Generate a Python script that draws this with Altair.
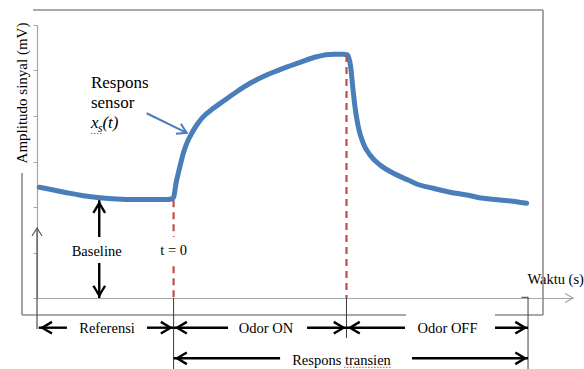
import altair as alt
import pandas as pd

# Sensor trace: time relative to odor onset (s) and output amplitude (mV)
time_s = [-77.7, -71.5, -61.8, -52.2, -42.6, -32.9, -23.3, -13.6, -4.0, -1.1,
          0.0, 1.4, 2.7, 4.1, 5.6, 7.6, 10.5, 13.4, 17.2, 23.0, 29.7, 36.5,
          44.2, 53.8, 63.4, 73.1, 82.8, 92.4, 98.1, 100.6,
          102.4, 103.6, 104.9, 106.8, 109.7, 113.6, 119.4, 127.1, 135.7,
          140.6, 150.2, 159.9, 169.5, 179.1, 188.8, 198.4, 204.2]
amplitude_mv = [24.33, 23.89, 23.14, 22.48, 22.04, 21.76, 21.65, 21.65, 21.65, 21.76,
                22.13, 25.21, 27.41, 29.60, 31.80, 34.00, 36.20, 38.02, 39.85, 41.69, 43.52, 45.34,
                47.19, 49.01, 50.48, 51.80, 53.03, 53.56, 53.56, 53.41,
                50.84, 46.44, 42.04, 37.65, 34.00, 31.43, 29.23, 27.41, 25.93,
                25.05, 24.11, 23.23, 22.64, 21.91, 21.54, 21.16, 20.81]

# Phase boundaries (s) and reference levels (mV)
T_AXIS, T_START, T_ON, T_OFF, T_END = -79, -78, 0, 100, 205
BASELINE_MV = 21.5
PEAK_MV = 53.4
amp_ticks = [0, 10, 20, 30, 40, 50, 60]

# Phase labels under the time axis
phase_labels = ["Referensi", "Odor ON", "Odor OFF"]
phase_label_t = [-38.5, 53.4, 158.4]
phase_shaft_t0 = [T_START, -15.4, T_ON, 77.2, T_OFF, 185.9]
phase_shaft_t1 = [-61.7, T_ON, 31.5, T_OFF, 133.8, T_END]
transient_label = "Respons transien"
transient_label_t = 97.1
transient_shaft_t0 = [T_ON, 137.9]
transient_shaft_t1 = [61.6, T_END]

FONT = "Liberation Serif"
BLUE = "#4A7EBB"
RED = "#C0504D"
INK = "#000000"
AXIS_GRAY = "#a6a6a6"
FRAME_GRAY = "#8c8c8c"
DARK = "#3c3c3c"
SPELL_RED = "#e04b4b"
HEAD = "M-1,-0.6L0,0L-1,0.6"   # open arrow head pointing right, tip at the anchor

xs = alt.Scale(domain=[-79, 231], nice=False, zero=False)
ys = alt.Scale(domain=[0, 60], nice=False, zero=False)
one = pd.DataFrame({"k": [0]})

# Shared axis definitions (every layer carries the same ones so they merge cleanly)
X_AXIS = alt.Axis(
    labels=False, ticks=False, grid=False, domainColor=AXIS_GRAY, domainWidth=1.2,
    title="Waktu (s)", titleFont=FONT, titleFontSize=14.5, titleFontWeight="normal",
    titleColor=INK, titleX=490, titleY=-15, titleAlign="left", titleBaseline="alphabetic")
Y_AXIS = alt.Axis(
    values=amp_ticks, labels=False, ticks=True, tickSize=4, tickColor=AXIS_GRAY,
    grid=False, domainColor=AXIS_GRAY, domainWidth=1.2,
    title="Amplitudo sinyal (mV)", titleFont=FONT, titleFontSize=15,
    titleFontWeight="normal", titleColor=INK, titleAngle=270, titleAlign="center",
    titleBaseline="alphabetic", titleX=-10.3, titleY=67.5)


def X(field):
    return alt.X(field, type="quantitative", scale=xs, axis=X_AXIS)


def Y(field):
    return alt.Y(field, type="quantitative", scale=ys, axis=Y_AXIS)


trace = pd.DataFrame({"t": time_s, "mv": amplitude_mv})

curve = alt.Chart(trace).mark_line(
    color=BLUE, strokeWidth=5, interpolate="monotone", strokeCap="round", strokeJoin="round"
).encode(x=X("t"), y=Y("mv"))

# Red dashed markers at odor onset and odor removal
markers = pd.DataFrame({
    "t": [T_ON, T_ON, T_OFF],
    "v0": [BASELINE_MV, 7.0, PEAK_MV],
    "v1": [13.4, 0, 0],
})
red_lines = alt.Chart(markers).mark_rule(color=RED, strokeWidth=2.2, strokeDash=[7, 5]).encode(
    x=X("t"), y=Y("v0"), y2="v1")

# Baseline double arrow
base_t = -43
base_shafts = pd.DataFrame({"t": [base_t, base_t], "v0": [BASELINE_MV, 7.7], "v1": [13.4, 0]})
base_lines = alt.Chart(base_shafts).mark_rule(color=INK, strokeWidth=2.4).encode(
    x=X("t"), y=Y("v0"), y2="v1")
base_head_up = alt.Chart(pd.DataFrame({"t": [base_t], "v": [BASELINE_MV]})).mark_point(
    shape=HEAD, filled=False, size=380, strokeWidth=2.4, color=INK, opacity=1, angle=270,
    yOffset=3).encode(x=X("t"), y=Y("v"))
base_head_down = alt.Chart(pd.DataFrame({"t": [base_t], "v": [0]})).mark_point(
    shape=HEAD, filled=False, size=380, strokeWidth=2.4, color=INK, opacity=1, angle=90,
    yOffset=-2.5).encode(x=X("t"), y=Y("v"))

text_style = dict(font=FONT, color=INK, baseline="alphabetic")
in_plot_text = pd.DataFrame({"t": [-44.5, T_ON], "v": [9.23, 9.56], "label": ["Baseline", "t = 0"]})
in_plot_labels = alt.Chart(in_plot_text).mark_text(fontSize=14.5, align="center", **text_style).encode(
    x=X("t"), y=Y("v"), text="label:N")

# Callout pointing at the rising response
callout_t, callout_v = [-15.6, 7.6], [40.6, 36.3]
callout = alt.Chart(pd.DataFrame({"t": callout_t, "v": callout_v})).mark_line(
    color=BLUE, strokeWidth=2).encode(x=X("t"), y=Y("v"))
callout_head = alt.Chart(pd.DataFrame({"t": [callout_t[1]], "v": [callout_v[1]]})).mark_point(
    shape=HEAD, filled=False, size=340, strokeWidth=2, color=BLUE, opacity=1, angle=26).encode(
    x=X("t"), y=Y("v"))
note_t = -47.8
note_lines = alt.Chart(pd.DataFrame({"t": [note_t, note_t], "v": [46.1, 41.7],
                                     "label": ["Respons", "sensor"]})).mark_text(
    fontSize=17, align="left", **text_style).encode(x=X("t"), y=Y("v"), text="label:N")
note_pos = pd.DataFrame({"t": [note_t], "v": [37.3]})
note_x = alt.Chart(note_pos).mark_text(fontSize=17, align="left", fontStyle="italic",
                                       text="x", **text_style).encode(x=X("t"), y=Y("v"))
note_s = alt.Chart(note_pos).mark_text(fontSize=11.5, align="left", fontStyle="italic",
                                       text="s", dx=7, dy=3.5, **text_style).encode(x=X("t"), y=Y("v"))
note_arg = alt.Chart(note_pos).mark_text(fontSize=17, align="left", fontStyle="italic",
                                         text="(t)", dx=11.5, **text_style).encode(x=X("t"), y=Y("v"))

# Spell-check underlines carried over from the word processor
note_spell = alt.Chart(pd.DataFrame({"t0": [-47.8], "t1": [-41.8]})).mark_rule(
    color=SPELL_RED, strokeWidth=1, strokeDash=[1.5, 1.5]).encode(
    x=X("t0"), x2="t1", y=alt.value(108.5))
trans_spell = alt.Chart(pd.DataFrame({"t0": [98.6], "t1": [126.3]})).mark_rule(
    color=SPELL_RED, strokeWidth=1, strokeDash=[1.5, 1.5]).encode(
    x=X("t0"), x2="t1", y=alt.value(ROW2_SPELL := 342.3))

# Time-axis arrow head and the amplitude arrow below the frame
x_head = alt.Chart(pd.DataFrame({"t": [231], "v": [0]})).mark_point(
    shape="M-1,-0.56L0,0L-1,0.56", filled=False, size=256, strokeWidth=1.2, color=AXIS_GRAY,
    opacity=1).encode(x=X("t"), y=Y("v"))
y_arrow = alt.Chart(pd.DataFrame({"t": [T_AXIS]})).mark_rule(color="#5a5a5a", strokeWidth=1.3).encode(
    x=X("t"), y=alt.value(204), y2=alt.value(304))
y_arrow_head = alt.Chart(pd.DataFrame({"t": [T_AXIS]})).mark_point(
    shape="M-1,-0.62L0,0L-1,0.62", filled=False, size=256, strokeWidth=1.2, color="#5a5a5a",
    opacity=1, angle=270).encode(x=X("t"), y=alt.value(203))

# Vertical boundary ticks below the time axis
bound_on = alt.Chart(pd.DataFrame({"t": [T_ON]})).mark_rule(color=DARK, strokeWidth=1).encode(
    x=X("t"), y=alt.value(273), y2=alt.value(344))
bound_off = alt.Chart(pd.DataFrame({"t": [T_OFF]})).mark_rule(color=DARK, strokeWidth=1).encode(
    x=X("t"), y=alt.value(273), y2=alt.value(313))
bound_end = alt.Chart(pd.DataFrame({"t": [T_END]})).mark_rule(color=DARK, strokeWidth=1).encode(
    x=X("t"), y=alt.value(272), y2=alt.value(344))
bound_end_cap = alt.Chart(pd.DataFrame({"t0": [201.2], "t1": [T_END]})).mark_rule(
    color=DARK, strokeWidth=1).encode(x=X("t0"), x2="t1", y=alt.value(272.3))

ROW1, ROW2 = 302.7, 333.3
arrow_style = dict(shape=HEAD, filled=False, size=380, strokeWidth=2.4, color=INK, opacity=1)

row1_shafts = alt.Chart(pd.DataFrame({"t0": phase_shaft_t0, "t1": phase_shaft_t1})).mark_rule(
    color=INK, strokeWidth=2.4).encode(x=X("t0"), x2="t1", y=alt.value(ROW1))
row1_left = alt.Chart(pd.DataFrame({"t": [T_START, T_ON, T_OFF]})).mark_point(
    angle=180, xOffset=3.5, **arrow_style).encode(x=X("t"), y=alt.value(ROW1))
row1_right = alt.Chart(pd.DataFrame({"t": [T_ON, T_OFF, T_END]})).mark_point(
    xOffset=-3, **arrow_style).encode(x=X("t"), y=alt.value(ROW1))
row1_text = alt.Chart(pd.DataFrame({"t": phase_label_t, "label": phase_labels})).mark_text(
    fontSize=14.5, align="center", **text_style).encode(x=X("t"), y=alt.value(ROW1 + 5.3), text="label:N")

row2_shafts = alt.Chart(pd.DataFrame({"t0": transient_shaft_t0, "t1": transient_shaft_t1})).mark_rule(
    color=INK, strokeWidth=2.4).encode(x=X("t0"), x2="t1", y=alt.value(ROW2))
row2_left = alt.Chart(pd.DataFrame({"t": [T_ON]})).mark_point(
    angle=180, xOffset=3.5, **arrow_style).encode(x=X("t"), y=alt.value(ROW2))
row2_right = alt.Chart(pd.DataFrame({"t": [T_END]})).mark_point(
    xOffset=-3, **arrow_style).encode(x=X("t"), y=alt.value(ROW2))
row2_text = alt.Chart(pd.DataFrame({"t": [transient_label_t], "label": [transient_label]})).mark_text(
    fontSize=14.5, align="center", **text_style).encode(x=X("t"), y=alt.value(ROW2 + 6.5), text="label:N")

# Outer frame around the figure (broken where the titles sit)
frame = [
    alt.Chart(one).mark_rule(color=FRAME_GRAY, strokeWidth=1.6).encode(
        x=alt.value(-4), x2=alt.value(506), y=alt.value(-15)),
    alt.Chart(one).mark_rule(color=FRAME_GRAY, strokeWidth=1.6).encode(
        x=alt.value(506), y=alt.value(-15), y2=alt.value(290)),
    alt.Chart(one).mark_rule(color=FRAME_GRAY, strokeWidth=1.6).encode(
        x=alt.value(-15), x2=alt.value(369), y=alt.value(290)),
    alt.Chart(one).mark_rule(color=FRAME_GRAY, strokeWidth=1.6).encode(
        x=alt.value(458), x2=alt.value(506), y=alt.value(290)),
    alt.Chart(one).mark_rule(color=FRAME_GRAY, strokeWidth=1.6).encode(
        x=alt.value(-15), y=alt.value(148), y2=alt.value(290)),
]

chart = alt.layer(
    curve, *frame, red_lines, base_lines, base_head_up, base_head_down, in_plot_labels,
    callout, callout_head, note_lines, note_x, note_s, note_arg, note_spell,
    x_head, y_arrow, y_arrow_head, bound_on, bound_off, bound_end, bound_end_cap,
    row1_shafts, row1_left, row1_right, row1_text,
    row2_shafts, row2_left, row2_right, row2_text, trans_spell,
).properties(
    width=536, height=273,
    padding={"left": 37, "top": 25, "right": 11, "bottom": 71},
    autosize=alt.AutoSizeParams(type="none"),
).configure_view(stroke=None)

chart.save("out.html", embed_options={"renderer": "svg", "actions": False})
